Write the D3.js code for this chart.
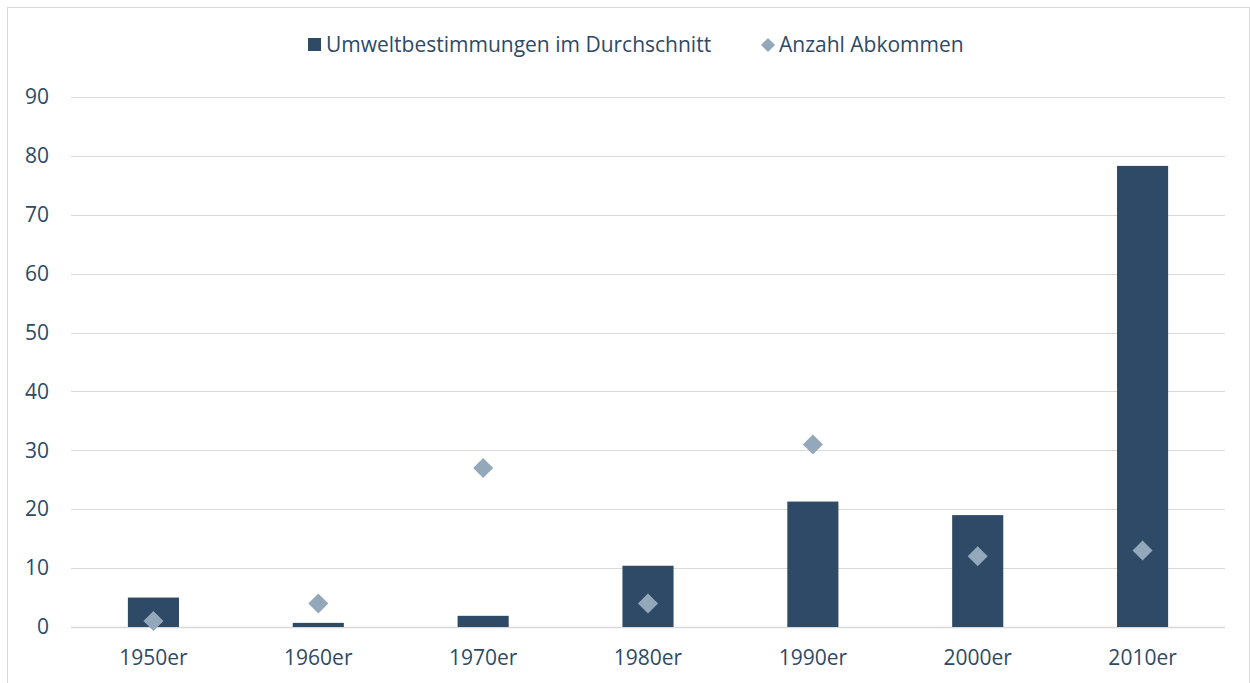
<!DOCTYPE html>
<html>
<head>
<meta charset="utf-8">
<script src="https://cdn.jsdelivr.net/npm/d3@7"></script>
<style>
  body { margin: 0; background: #fff; }
  svg { display: block; font-family: "Open Sans", "Noto Sans", sans-serif; }
</style>
</head>
<body>
<svg width="1250" height="683"></svg>
<script>
let decades = ["1950er", "1960er", "1970er", "1980er", "1990er", "2000er", "2010er"]
let avg_rules = [5, 0.7, 1.9, 10.4, 21.3, 19, 78.3]
let num_agreements = [1, 4, 27, 4, 31, 12, 13]
let y_ticks = [0, 10, 20, 30, 40, 50, 60, 70, 80, 90]
let legend_names = ["Umweltbestimmungen im Durchschnitt", "Anzahl Abkommen"]

let bar_color = "#2e4a66"
let dot_color = "#94a8bb"
let text_color = "#2e4a66"
let grid_color = "#d9d9d9"
let font_size = "21px"

let plot_left = 71, plot_right = 1225, plot_top = 97, plot_bottom = 627

var svg = d3.select("svg")

// outer frame
svg.append("rect")
  .attr("x", 7.5).attr("y", 7.5)
  .attr("width", 1242).attr("height", 690)
  .attr("fill", "none")
  .attr("stroke", grid_color)
  .attr("stroke-width", 1)

let x = d3.scaleBand().domain(decades).range([plot_left, plot_right]).paddingInner(0.69).paddingOuter(0.345)
let y = d3.scaleLinear().domain([0, 90]).range([plot_bottom, plot_top])

// gridlines
svg.selectAll("line.grid")
  .data(y_ticks)
  .enter()
  .append("line")
  .attr("class", "grid")
  .attr("x1", plot_left).attr("x2", plot_right)
  .attr("y1", d => Math.round(y(d)) + 0.5)
  .attr("y2", d => Math.round(y(d)) + 0.5)
  .attr("stroke", grid_color)
  .attr("stroke-width", d => d == 0 ? 1.5 : 1)

// y axis labels
let yAxis = svg.append("g")
  .attr("transform", "translate(" + (plot_left - 22) + ",0)")
  .call(d3.axisLeft(y).tickValues(y_ticks).tickSize(0).tickPadding(0))
yAxis.select(".domain").remove()
yAxis.selectAll("text")
  .attr("fill", text_color)
  .style("font-size", font_size)
  .style("font-family", "Open Sans")

// x axis labels
let xAxis = svg.append("g")
  .attr("transform", "translate(0," + (plot_bottom + 19) + ")")
  .call(d3.axisBottom(x).tickSize(0).tickPadding(0))
xAxis.select(".domain").remove()
xAxis.selectAll("text")
  .attr("fill", text_color)
  .attr("dy", "0.9em")
  .style("font-size", font_size)
  .style("font-family", "Open Sans")

// bars
svg.selectAll("rect.bar")
  .data(decades)
  .enter()
  .append("rect")
  .attr("class", "bar")
  .attr("x", d => x(d))
  .attr("width", x.bandwidth())
  .attr("y", (d, i) => y(avg_rules[i]))
  .attr("height", (d, i) => y(0) - y(avg_rules[i]))
  .attr("fill", bar_color)

// diamonds
let diamond = d3.symbol().type(d3.symbolSquare).size(200)
svg.selectAll("path.dot")
  .data(decades)
  .enter()
  .append("path")
  .attr("class", "dot")
  .attr("d", diamond)
  .attr("transform", (d, i) => "translate(" + (x(d) + x.bandwidth() / 2) + "," + y(num_agreements[i]) + ") rotate(45)")
  .attr("fill", dot_color)

// legend
let lg = svg.append("g").attr("transform", "translate(0,45)")
lg.append("rect")
  .attr("x", 308).attr("y", -7)
  .attr("width", 13).attr("height", 13)
  .attr("fill", bar_color)
lg.append("text")
  .attr("x", 326).attr("y", 0).attr("dy", "0.35em")
  .attr("fill", text_color)
  .style("font-size", font_size)
  .text(legend_names[0])
lg.append("path")
  .attr("d", d3.symbol().type(d3.symbolSquare).size(100))
  .attr("transform", "translate(768,0) rotate(45)")
  .attr("fill", dot_color)
lg.append("text")
  .attr("x", 779).attr("y", 0).attr("dy", "0.35em")
  .attr("fill", text_color)
  .style("font-size", font_size)
  .text(legend_names[1])
</script>
</body>
</html>
